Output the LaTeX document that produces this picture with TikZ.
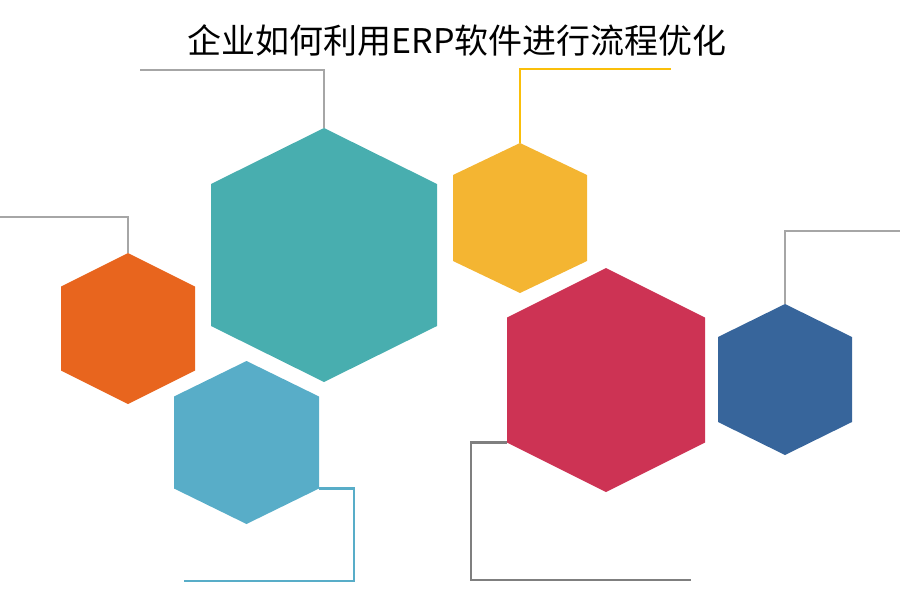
\documentclass[tikz,border=0pt]{standalone}
\usepackage{fontspec}
\newfontfamily\cjk{Noto Sans CJK SC}
\definecolor{cteal}{HTML}{48AEAF}
\definecolor{cyellow}{HTML}{F4B532}
\definecolor{corange}{HTML}{E8651E}
\definecolor{clblue}{HTML}{58ADC8}
\definecolor{cred}{HTML}{CD3354}
\definecolor{cdblue}{HTML}{37659B}
\definecolor{lgray}{HTML}{A6A6A6}
\definecolor{dgray}{HTML}{7F7F7F}
\definecolor{lyellow}{HTML}{FABF0A}
% name, cx, cy, half width, half height, half side, colour
\newcommand\myhex[7]{%
  \coordinate (#1-t) at (#2,#3-#5);
  \coordinate (#1-b) at (#2,#3+#5);
  \coordinate (#1-tl) at (#2-#4,#3-#6);
  \coordinate (#1-bl) at (#2-#4,#3+#6);
  \coordinate (#1-tr) at (#2+#4,#3-#6);
  \coordinate (#1-br) at (#2+#4,#3+#6);
  \fill[#7] (#1-t) -- (#1-tr) -- (#1-br) -- (#1-b) -- (#1-bl) -- (#1-tl) -- cycle;}
\tikzset{leader/.style={line width=2.2pt}}
\begin{document}
\begin{tikzpicture}[x=1pt,y=-1pt]
\useasboundingbox (0,0) rectangle (900,600);
\node[font=\cjk\fontsize{34}{40}\selectfont, text=black, inner sep=0pt] (title) at (457,41) {企业如何利用ERP软件进行流程优化};
\myhex{teal}{324}{255}{113}{127}{71}{cteal}
\myhex{orange}{128}{328.5}{67}{75.5}{42}{corange}
\myhex{yellow}{520}{218}{67}{75}{43}{cyellow}
\myhex{lblue}{246.5}{442.5}{72.5}{81.5}{46}{clblue}
\myhex{red}{606}{380}{99}{112}{62.5}{cred}
\myhex{dblue}{785}{379.5}{67}{75.5}{42.5}{cdblue}
\coordinate (e1) at (140,70);
\coordinate (e2) at (671,69);
\coordinate (e3) at (0,217);
\coordinate (e4) at (900,231);
\coordinate (e5) at (184,581);
\coordinate (e6) at (691,580);
\draw[leader, lgray] (teal-t) |- (e1);
\draw[leader, lyellow] (yellow-t) |- (e2);
\draw[leader, lgray] (orange-t) |- (e3);
\draw[leader, lgray] (dblue-t) |- (e4);
\draw[leader, clblue] (lblue-br) -- ++(35,0) |- (e5);
\draw[leader, dgray] (red-bl) -- ++(-36,0) |- (e6);
\end{tikzpicture}
\end{document}
